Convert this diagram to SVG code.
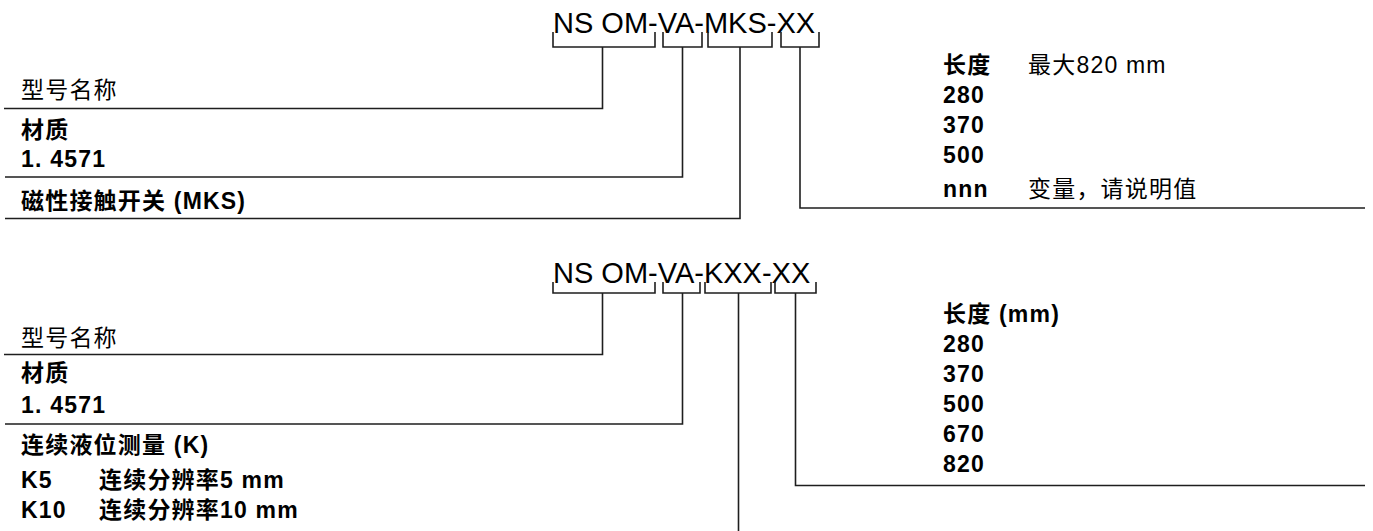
<svg xmlns="http://www.w3.org/2000/svg" width="1373" height="531" viewBox="0 0 1373 531">
<style>
text{font-family:"Liberation Sans","Noto Sans CJK SC",sans-serif;fill:#000}
.t{font-size:29px}
.l{font-size:23px;letter-spacing:1.2px}
.b{font-weight:bold}
.c path{fill:none;stroke:#1e1e1e;stroke-width:1.6}
</style>
<rect width="1373" height="531" fill="#fff"/>
<g id="code1"><text class="t" x="553" y="33">NS OM-VA-MKS-XX</text></g>
<g id="code2"><text class="t" x="553" y="283">NS OM-VA-KXX-XX</text></g>
<g id="s1-type"><text class="l" x="21" y="98">型号名称</text></g>
<g id="s1-mat"><text class="l b" x="21" y="138">材质</text><text class="l b" x="21" y="167">1. 4571</text></g>
<g id="s1-mks"><text class="l b" x="21" y="209">磁性接触开关 (MKS)</text></g>
<g id="s1-len">
<text class="l b" x="943" y="73">长度</text><text class="l" x="1028" y="73">最大820 mm</text>
<text class="l b" x="943" y="103">280</text>
<text class="l b" x="943" y="133">370</text>
<text class="l b" x="943" y="163">500</text>
<text class="l b" x="943" y="197">nnn</text><text class="l" x="1028" y="197">变量，请说明值</text>
</g>
<g id="s2-type"><text class="l" x="21" y="346">型号名称</text></g>
<g id="s2-mat"><text class="l b" x="21" y="381">材质</text><text class="l b" x="21" y="413">1. 4571</text></g>
<g id="s2-k">
<text class="l b" x="21" y="453">连续液位测量 (K)</text>
<text class="l b" x="21" y="488">K5</text><text class="l b" x="99" y="488">连续分辨率5 mm</text>
<text class="l b" x="21" y="518">K10</text><text class="l b" x="99" y="518">连续分辨率10 mm</text>
</g>
<g id="s2-len">
<text class="l b" x="943" y="322">长度 (mm)</text>
<text class="l b" x="943" y="352">280</text>
<text class="l b" x="943" y="382">370</text>
<text class="l b" x="943" y="412">500</text>
<text class="l b" x="943" y="442">670</text>
<text class="l b" x="943" y="472">820</text>
</g>
<g id="connectors" class="c">
<path d="M553,32V47H655V32"/><path d="M602.5,47V108.5H4"/>
<path d="M663,32V47H702V32"/><path d="M682.5,47V177H5"/>
<path d="M708,32V47H772V32"/><path d="M740,47V218.5H5"/>
<path d="M781,32V47H819V32"/><path d="M800,47V208H1365"/>
<path d="M553,282V293H655V282"/><path d="M602.5,293V354.5H4"/>
<path d="M663,282V293H700V282"/><path d="M682.5,293V424H5"/>
<path d="M705,282V293H771V282"/><path d="M738.5,293V531"/>
<path d="M775,282V293H816V282"/><path d="M795.5,293V485.5H1365"/>
</g>
</svg>
